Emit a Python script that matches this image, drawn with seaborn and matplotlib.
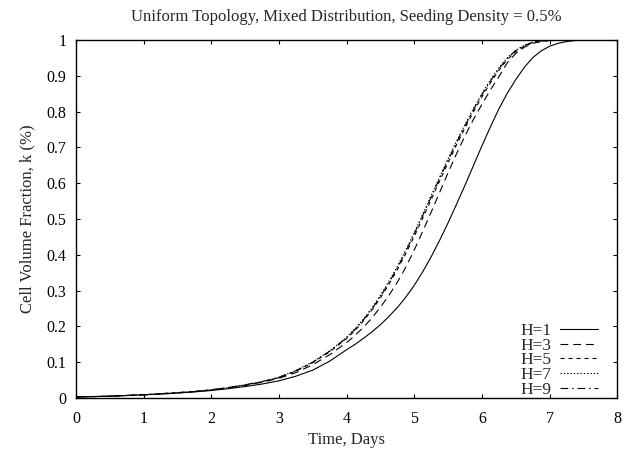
import numpy as np
import pandas as pd
import matplotlib
matplotlib.use("Agg")
import matplotlib.pyplot as plt
import seaborn as sns

days = [0, 0.25, 0.5, 0.75, 1, 1.25, 1.5, 1.75, 2, 2.25, 2.5, 2.75, 3, 3.25, 3.5, 3.75, 4,
        4.125, 4.25, 4.375, 4.5, 4.625, 4.75, 4.875, 5, 5.125, 5.25, 5.375, 5.5, 5.625,
        5.75, 5.875, 6, 6.125, 6.25, 6.375, 6.5, 6.625, 6.75, 6.875, 7, 7.125, 7.25,
        7.375, 7.5, 7.625, 7.75, 7.875, 8]

h1 = [0.003, 0.004, 0.005, 0.007, 0.009, 0.011, 0.014, 0.017, 0.021, 0.026, 0.032, 0.039,
      0.048, 0.061, 0.078, 0.103, 0.135,
      0.150, 0.167, 0.185, 0.205, 0.228, 0.253, 0.282, 0.315, 0.353, 0.395, 0.441, 0.490,
      0.542, 0.595, 0.650, 0.705, 0.758, 0.808, 0.852, 0.890, 0.924, 0.951, 0.970, 0.983,
      0.991, 0.996, 0.999, 1.0, 1.0, 1.0, 1.0, 1.0]
h3 = [0.003, 0.004, 0.005, 0.007, 0.009, 0.011, 0.014, 0.018, 0.022, 0.028, 0.035, 0.044,
      0.055, 0.071, 0.093, 0.121, 0.155,
      0.175, 0.198, 0.224, 0.254, 0.287, 0.324, 0.366, 0.414, 0.466, 0.520, 0.575, 0.630,
      0.683, 0.733, 0.779, 0.821, 0.861, 0.898, 0.937, 0.963, 0.980, 0.991, 0.996, 0.999,
      1.0, 1.0, 1.0, 1.0, 1.0, 1.0, 1.0, 1.0]
h5 = [0.003, 0.004, 0.005, 0.007, 0.009, 0.012, 0.015, 0.018, 0.023, 0.029, 0.036, 0.045,
      0.057, 0.075, 0.099, 0.129, 0.166,
      0.189, 0.216, 0.246, 0.280, 0.318, 0.359, 0.404, 0.452, 0.503, 0.555, 0.607, 0.658,
      0.708, 0.755, 0.800, 0.842, 0.881, 0.916, 0.946, 0.968, 0.983, 0.993, 0.997, 0.999,
      1.0, 1.0, 1.0, 1.0, 1.0, 1.0, 1.0, 1.0]
h7 = [0.003, 0.004, 0.005, 0.007, 0.009, 0.012, 0.015, 0.018, 0.023, 0.029, 0.037, 0.046,
      0.058, 0.077, 0.101, 0.132, 0.170,
      0.194, 0.221, 0.252, 0.287, 0.326, 0.368, 0.414, 0.463, 0.514, 0.566, 0.618, 0.669,
      0.718, 0.765, 0.809, 0.851, 0.889, 0.923, 0.951, 0.972, 0.986, 0.994, 0.998, 1.0,
      1.0, 1.0, 1.0, 1.0, 1.0, 1.0, 1.0, 1.0]
h9 = [0.003, 0.004, 0.005, 0.007, 0.009, 0.012, 0.015, 0.018, 0.023, 0.029, 0.037, 0.046,
      0.058, 0.076, 0.100, 0.131, 0.168,
      0.192, 0.219, 0.249, 0.284, 0.322, 0.364, 0.410, 0.459, 0.510, 0.562, 0.614, 0.665,
      0.714, 0.761, 0.806, 0.848, 0.886, 0.920, 0.949, 0.971, 0.985, 0.994, 0.998, 1.0,
      1.0, 1.0, 1.0, 1.0, 1.0, 1.0, 1.0, 1.0]

series_names = ["H=1", "H=3", "H=5", "H=7", "H=9"]
series_vals = [h1, h3, h5, h7, h9]

x_ticks = [0, 1, 2, 3, 4, 5, 6, 7, 8]
y_ticks = [0, 0.1, 0.2, 0.3, 0.4, 0.5, 0.6, 0.7, 0.8, 0.9, 1]
y_tick_labels = ["0", "0.1", "0.2", "0.3", "0.4", "0.5", "0.6", "0.7", "0.8", "0.9", "1"]

df = pd.concat([pd.DataFrame({"day": days, "k": v, "H": n})
                for n, v in zip(series_names, series_vals)], ignore_index=True)

sns.set_theme(style="ticks")
plt.rcParams["font.family"] = ["Liberation Serif", "DejaVu Serif"]
plt.rcParams["font.size"] = 11

fig = plt.figure(figsize=(6.28, 4.51), dpi=100)
ax = fig.add_axes([0.121, 0.1175, 0.862, 0.7935])

dash_map = {
    "H=1": "",
    "H=3": (7.0, 4.5),
    "H=5": (3.6, 3.6),
    "H=7": (1.2, 1.8),
    "H=9": (7.0, 3.5, 1.3, 3.5),
}

sns.lineplot(data=df, x="day", y="k", style="H", style_order=series_names,
             dashes=dash_map, color="black", linewidth=0.8, estimator=None,
             sort=False, ax=ax)

leg = ax.get_legend()
handles = list(leg.legend_handles)
labels = [t.get_text() for t in leg.texts]
pairs = [(h, l) for h, l in zip(handles, labels) if l in series_names]
leg.remove()
for h, _ in pairs:
    h.set_color("black")
    h.set_linewidth(0.8)
ax.legend([p[0] for p in pairs], [p[1] for p in pairs], loc="lower right",
          frameon=False, markerfirst=False, handlelength=2.2, labelspacing=-0.08,
          handletextpad=0.5, borderpad=0.0, borderaxespad=0.0, fontsize=12.5,
          bbox_to_anchor=(0.965, 0.0))

ax.set_xlim(0, 8)
ax.set_ylim(0, 1)
ax.set_xticks(x_ticks)
ax.set_xticklabels([str(t) for t in x_ticks])
ax.set_yticks(y_ticks)
ax.set_yticklabels(y_tick_labels)
ax.tick_params(direction="in", top=True, right=True, length=3, width=0.8,
               labelsize=11.5, colors="black")
ax.tick_params(axis="x", pad=9)
ax.tick_params(axis="y", pad=7)
for s in ax.spines.values():
    s.set_linewidth(1.0)
    s.set_color("black")

ax.set_xlabel("Time, Days", fontsize=12, labelpad=4)
ax.set_ylabel("Cell Volume Fraction, k (%)", fontsize=12, labelpad=8)
ax.set_title("Uniform Topology, Mixed Distribution, Seeding Density = 0.5%",
             fontsize=12, pad=13.5)

fig.savefig("out.png", dpi=100, facecolor="white")
